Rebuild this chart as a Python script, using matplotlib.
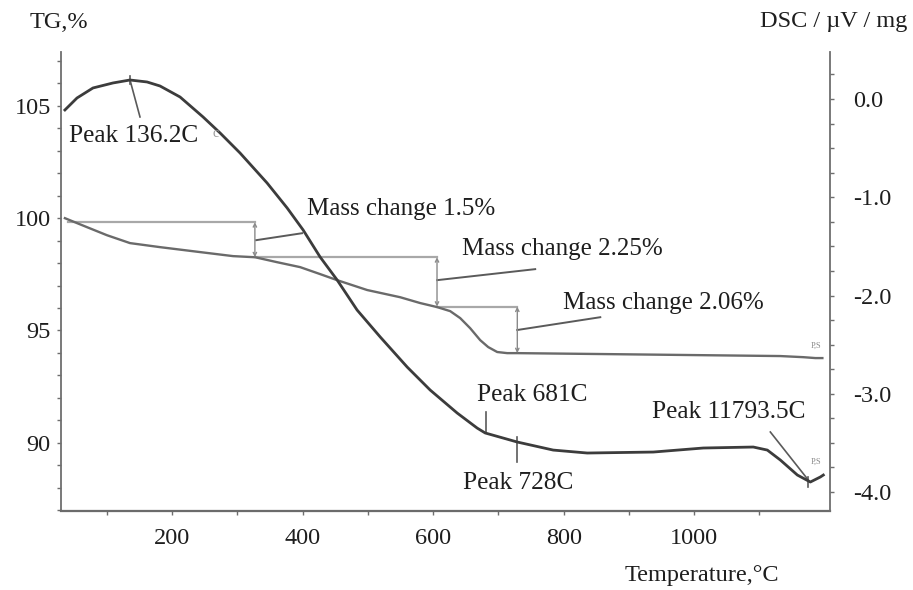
import matplotlib
matplotlib.use('Agg')
import matplotlib.pyplot as plt
from matplotlib.ticker import MultipleLocator, FormatStrFormatter

plt.rcParams['font.family'] = ['Liberation Serif', 'DejaVu Serif']
plt.rcParams['axes.unicode_minus'] = False

# DSC curve (right axis)
temp_dsc = [36, 54.5, 79, 109.7, 135.7, 161.8, 181.7, 212.4, 247.6, 273.7, 304.3,
            345.7, 376.4, 400.9, 426.9, 453, 483.6, 519, 560.3, 595.5, 636.9,
            667.5, 679.8, 728.9, 784, 836.1, 937.3, 1013.9, 1090.5, 1112,
            1131.9, 1158, 1177.9, 1193.2, 1197.8]
dsc = [-0.112, 0.010, 0.112, 0.163, 0.193, 0.173, 0.132, 0.020, -0.183, -0.346,
       -0.550, -0.855, -1.109, -1.333, -1.608, -1.842, -2.148, -2.422, -2.728,
       -2.962, -3.196, -3.349, -3.399, -3.491, -3.573, -3.603, -3.593, -3.552,
       -3.542, -3.573, -3.674, -3.827, -3.898, -3.847, -3.827]

# TG curve (left axis)
temp_tg = [36, 69.8, 100.5, 135.7, 181.7, 243, 293.6, 327.3, 361, 396.3, 426.9,
           453, 499, 549.5, 580.2, 606.2, 626.2, 641.5, 656.8, 672.1, 684.4,
           698.2, 713.5, 728.9, 856.1, 1009.3, 1131.9, 1167.2, 1185.6, 1196.3]
tg = [100.0, 99.60, 99.24, 98.89, 98.71, 98.49, 98.31, 98.26, 98.04, 97.82,
      97.51, 97.24, 96.80, 96.48, 96.22, 96.04, 95.86, 95.55, 95.10, 94.57,
      94.26, 94.04, 93.99, 93.99, 93.95, 93.90, 93.86, 93.81, 93.77, 93.77]

# mass change steps
step_start = 40
step_temps = [327, 606, 729]
step_levels = [99.82, 98.26, 96.06, 93.99]
mass_labels = ['Mass change 1.5%', 'Mass change 2.25%', 'Mass change 2.06%']

peak_temps = [136.2, 681, 728, 1179]
peak_labels = ['Peak 136.2C', 'Peak 681C', 'Peak 728C', 'Peak 11793.5C']

W, H = 913, 590
fig = plt.figure(figsize=(W / 100, H / 100), dpi=100)
ax = fig.add_axes([61 / W, 1 - 511 / H, (830 - 61) / W, (511 - 52) / H])
ax2 = ax.twinx()

spine_c = '#6e6e6e'
txt_c = '#1e1e1e'

ax.plot(temp_tg, tg, color='#6a6a6a', lw=1.7, zorder=3)
ax2.plot(temp_dsc, dsc, color='#3c3c3c', lw=2.0, zorder=3)

# mass change markers
step_c = '#a8a8a8'
xs = [step_start] + step_temps
for i, t in enumerate(step_temps):
    ax.plot([xs[i], t], [step_levels[i], step_levels[i]], color=step_c, lw=1.6, zorder=2)
    ax.annotate('', xy=(t, step_levels[i + 1]), xytext=(t, step_levels[i]),
                arrowprops=dict(arrowstyle='<->', color='#8a8a8a', lw=1.0,
                                mutation_scale=6, shrinkA=0, shrinkB=0))

# leaders and texts for mass change
lead_mass = [((328.9, 99.02), (399.3, 99.33)),
             ((606.2, 97.24), (756.4, 97.73)),
             ((728.9, 95.02), (856.1, 95.59))]
mass_pos = [(407, 100.40), (644.6, 98.62), (799.3, 96.22)]
for (p0, p1), (tx, ty), lab in zip(lead_mass, mass_pos, mass_labels):
    ax.plot([p0[0], p1[0]], [p0[1], p1[1]], color='#5a5a5a', lw=1.4, zorder=2)
    ax.text(tx, ty, lab, fontsize=18, color=txt_c, va='center', ha='left')

# peak leaders and texts (DSC axis)
lead_peak = [((135.7, 0.193), (151, -0.183)),
             ((681, -3.186), (681, -3.40)),
             ((728, -3.44), (728, -3.695)),
             ((1116.6, -3.389), (1174.8, -3.878))]
peak_pos = [(42.3, -0.377), (667.5, -3.013), (646, -3.908), (935.7, -3.186)]
for (p0, p1), (tx, ty), lab in zip(lead_peak, peak_pos, peak_labels):
    ax2.plot([p0[0], p1[0]], [p0[1], p1[1]], color='#5a5a5a', lw=1.2, zorder=2)
    ax2.text(tx, ty, lab, fontsize=18.3, color=txt_c, va='center', ha='left')
ax2.plot([peak_temps[0], peak_temps[0]], [0.23, 0.15], color='#5a5a5a', lw=1.2)
ax2.plot([peak_temps[3] - 4, peak_temps[3] - 4], [-3.85, -3.95], color='#5a5a5a', lw=1.2)

ax2.text(262, -0.35, 'c', fontsize=10, color='#9a9a9a', va='center')
ax.text(1178, 94.3, 'P,S', fontsize=6, color='#8a8a8a', va='center')
ax2.text(1178, -3.69, 'P,S', fontsize=6, color='#8a8a8a', va='center')

# axes
ax.set_xlim(30, 1208)
ax.set_ylim(86.96, 107.4)
ax2.set_ylim(-4.193, 0.478)
ax.set_xticks([200, 400, 600, 800, 1000])
ax.set_xticks([100, 300, 500, 700, 900, 1100], minor=True)
ax.set_yticks([90, 95, 100, 105])
ax.yaxis.set_minor_locator(MultipleLocator(1))
ax2.set_yticks([0, -1, -2, -3, -4])
ax2.yaxis.set_minor_locator(MultipleLocator(0.25))
ax2.yaxis.set_major_formatter(FormatStrFormatter('%.1f'))

ax.tick_params(which='both', direction='out', length=3, width=1, color=spine_c,
               labelsize=17.5, labelcolor=txt_c)
ax.tick_params(axis='y', pad=4.3)
ax.tick_params(axis='x', pad=9)
ax2.tick_params(which='both', direction='out', length=3, width=1, color=spine_c,
                labelsize=17.5, labelcolor=txt_c, pad=13.7)

for a in (ax, ax2):
    a.spines['top'].set_visible(False)
    for s in ('left', 'right', 'bottom'):
        a.spines[s].set_color(spine_c)
        a.spines[s].set_linewidth(1.3)
ax.spines['right'].set_visible(False)
ax2.spines['left'].set_visible(False)
ax.spines['bottom'].set_color('#555555')
ax.spines['bottom'].set_linewidth(1.6)

fig.text(30 / W, 1 - 23 / H, 'TG,%', fontsize=17.5, color=txt_c, ha='left', va='center')
fig.text(760 / W, 1 - 22 / H, 'DSC / µV / mg', fontsize=17.5, color=txt_c,
         ha='left', va='center')
fig.text(702 / W, 1 - 575 / H, 'Temperature,°C', fontsize=17.5, color=txt_c,
         ha='center', va='center')

fig.savefig('out.png', dpi=100)
